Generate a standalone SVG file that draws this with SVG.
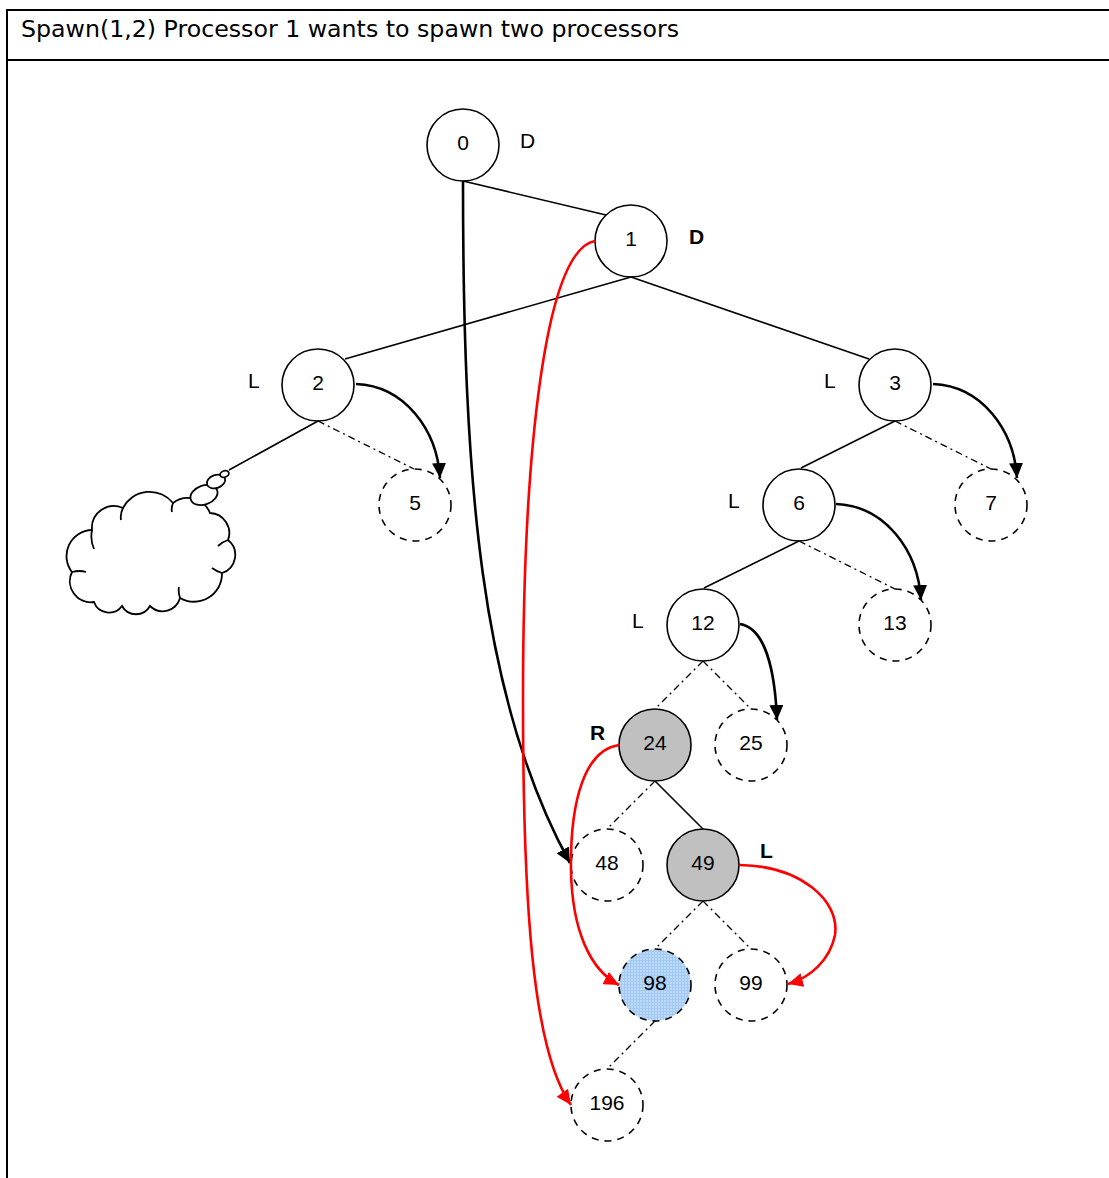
<svg xmlns="http://www.w3.org/2000/svg" width="1109" height="1178" viewBox="0 0 1109 1178">
  <style>
    .frame { stroke: #000; stroke-width: 2; fill: none; }
    .title { font-family: "DejaVu Sans", sans-serif; font-size: 23px; fill: #000; }
    .node { stroke: #000; stroke-width: 1.6; fill: #fff; }
    .ghost { stroke: #000; stroke-width: 1.6; fill: #fff; stroke-dasharray: 7 6; }
    .busy { fill: #c0c0c0; }
    .spawned { fill: url(#mesh); }
    .num { font-family: "Liberation Sans", Arial, sans-serif; font-size: 21px; text-anchor: middle; fill: #000; }
    .tag { font-family: "Liberation Sans", Arial, sans-serif; font-size: 21px; fill: #000; }
    .tag-b { font-weight: bold; }
    .edge { stroke: #000; stroke-width: 1.6; fill: none; }
    .link { stroke: #000; stroke-width: 1.3; fill: none; stroke-dasharray: 7 4 2 4; }
    .hop { stroke: #000; stroke-width: 2.6; fill: none; marker-end: url(#head-black); }
    .hop-red { stroke: #ff0000; stroke-width: 2.6; fill: none; marker-end: url(#head-red); }
    .cloud { stroke: #000; stroke-width: 1.8; fill: #fff; }
    .cloud-fold { stroke: #000; stroke-width: 1.8; fill: none; }
  </style>
  <defs>
    <marker id="head-black" markerUnits="userSpaceOnUse" markerWidth="16" markerHeight="14" refX="15" refY="7" orient="auto">
      <path d="M0,0 L15,7 L0,14 z" fill="#000"/>
    </marker>
    <marker id="head-red" markerUnits="userSpaceOnUse" markerWidth="16" markerHeight="14" refX="15" refY="7" orient="auto">
      <path d="M0,0 L15,7 L0,14 z" fill="#ff0000"/>
    </marker>
    <pattern id="mesh" width="3" height="3" patternUnits="userSpaceOnUse">
      <rect width="3" height="3" fill="#bcdaf8"/>
      <path d="M0,0.5 H3 M0.5,0 V3" stroke="#a2caf2" stroke-width="1"/>
    </pattern>
  </defs>

  <rect width="1109" height="1178" fill="#fff"/>

  <!-- frame and heading row -->
  <g id="frame">
    <path class="frame" d="M7,1178 V10 H1109 M7,60 H1109"/>
    <text class="title" x="21" y="37" textLength="658" lengthAdjust="spacingAndGlyphs">Spawn(1,2) Processor 1 wants to spawn two processors</text>
  </g>

  <!-- cloud with thought bubbles -->
  <g id="cloud">
    <path class="cloud" d="M92,530 A22,22 0 0 1 123,508 A30,30 0 0 1 173,503 A24,24 0 0 1 210,513 A20,20 0 0 1 228,540 A19,19 0 0 1 222,573 A28,28 0 0 1 180,598 A18,18 0 0 1 150,606 A16,16 0 0 1 122,606 A16,16 0 0 1 94,602 A21,21 0 0 1 72,572 A26,26 0 0 1 92,530 Z"/>
    <path class="cloud-fold" d="M92,530 Q90,540 94,549 M123,508 Q120,514 121,520 M173,503 Q171,508 172,512 M228,540 Q222,542 218,546 M222,573 Q216,571 212,568 M180,598 Q178,592 179,587 M72,572 Q80,570 86,572"/>
    <ellipse class="cloud" cx="204" cy="495" rx="14" ry="9.5" transform="rotate(-20 204 495)"/>
    <ellipse class="cloud" cx="216" cy="481.5" rx="9.5" ry="6.5" transform="rotate(-20 216 481.5)"/>
    <ellipse class="cloud" cx="224.5" cy="474" rx="4.5" ry="3.2" transform="rotate(-20 224.5 474)"/>
  </g>

  <g id="node-0">
    <circle class="node" cx="463" cy="145" r="36"/>
    <text class="num" x="463" y="150">0</text>
    <text class="tag" x="520" y="148">D</text>
  </g>
  <g id="node-1">
    <circle class="node" cx="631" cy="241" r="36"/>
    <text class="num" x="631" y="246">1</text>
    <text class="tag tag-b" x="689" y="244">D</text>
  </g>
  <g id="node-2">
    <circle class="node" cx="318" cy="385" r="36"/>
    <text class="num" x="318" y="390">2</text>
    <text class="tag" x="248" y="388">L</text>
  </g>
  <g id="node-3">
    <circle class="node" cx="895" cy="385" r="36"/>
    <text class="num" x="895" y="390">3</text>
    <text class="tag" x="824" y="388">L</text>
  </g>
  <g id="node-5">
    <circle class="ghost" cx="415" cy="505" r="36"/>
    <text class="num" x="415" y="510">5</text>
  </g>
  <g id="node-6">
    <circle class="node" cx="799" cy="505" r="36"/>
    <text class="num" x="799" y="510">6</text>
    <text class="tag" x="728" y="508">L</text>
  </g>
  <g id="node-7">
    <circle class="ghost" cx="991" cy="505" r="36"/>
    <text class="num" x="991" y="510">7</text>
  </g>
  <g id="node-12">
    <circle class="node" cx="703" cy="625" r="36"/>
    <text class="num" x="703" y="630">12</text>
    <text class="tag" x="632" y="628">L</text>
  </g>
  <g id="node-13">
    <circle class="ghost" cx="895" cy="625" r="36"/>
    <text class="num" x="895" y="630">13</text>
  </g>
  <g id="node-24">
    <circle class="node busy" cx="655" cy="745" r="36"/>
    <text class="num" x="655" y="750">24</text>
    <text class="tag tag-b" x="590" y="740">R</text>
  </g>
  <g id="node-25">
    <circle class="ghost" cx="751" cy="745" r="36"/>
    <text class="num" x="751" y="750">25</text>
  </g>
  <g id="node-48">
    <circle class="ghost" cx="607" cy="865" r="36"/>
    <text class="num" x="607" y="870">48</text>
  </g>
  <g id="node-49">
    <circle class="node busy" cx="703" cy="865" r="36"/>
    <text class="num" x="703" y="870">49</text>
    <text class="tag tag-b" x="760" y="858">L</text>
  </g>
  <g id="node-98">
    <circle class="ghost spawned" cx="655" cy="985" r="36"/>
    <text class="num" x="655" y="990">98</text>
  </g>
  <g id="node-99">
    <circle class="ghost" cx="751" cy="985" r="36"/>
    <text class="num" x="751" y="990">99</text>
  </g>
  <g id="node-196">
    <circle class="ghost" cx="607" cy="1105" r="36"/>
    <text class="num" x="607" y="1110">196</text>
  </g>

  <g id="connectors">
    <!-- tree edges -->
    <path class="edge" d="M463,181 L606,215"/>
    <path class="edge" d="M631,277 L345,359"/>
    <path class="edge" d="M631,277 L869,359"/>
    <path class="edge" d="M318,421 L229,470"/>
    <path class="edge" d="M895,421 L801,468"/>
    <path class="edge" d="M799,541 L704,588"/>
    <path class="edge" d="M655,781 L703,829"/>
    <!-- pending links to unspawned children -->
    <path class="link" d="M318,421 L414,469"/>
    <path class="link" d="M895,421 L991,469"/>
    <path class="link" d="M799,541 L895,589"/>
    <path class="link" d="M703,661 L655,709"/>
    <path class="link" d="M703,661 L751,709"/>
    <path class="link" d="M655,781 L607,829"/>
    <path class="link" d="M703,901 L655,949"/>
    <path class="link" d="M703,901 L751,949"/>
    <path class="link" d="M655,1021 L607,1069"/>
    <!-- spawn hops -->
    <path class="hop" d="M356,384 C405,386 437,430 440,478"/>
    <path class="hop" d="M933,384 C982,386 1014,430 1017,478"/>
    <path class="hop" d="M836,504 C885,506 918,550 921,600"/>
    <path class="hop" d="M740,624 C765,628 775,670 777,720"/>
    <path class="hop" d="M463,181 C463,480 480,700 570,863"/>
    <path class="hop-red" d="M595,241 C545,250 523,450 523,700 C523,900 532,1050 571,1105"/>
    <path class="hop-red" d="M619,745 C585,750 570,800 571,870 C572,930 590,970 619,985"/>
    <path class="hop-red" d="M740,865 C800,866 840,900 835,935 C830,960 810,978 788,984"/>
  </g>
</svg>
